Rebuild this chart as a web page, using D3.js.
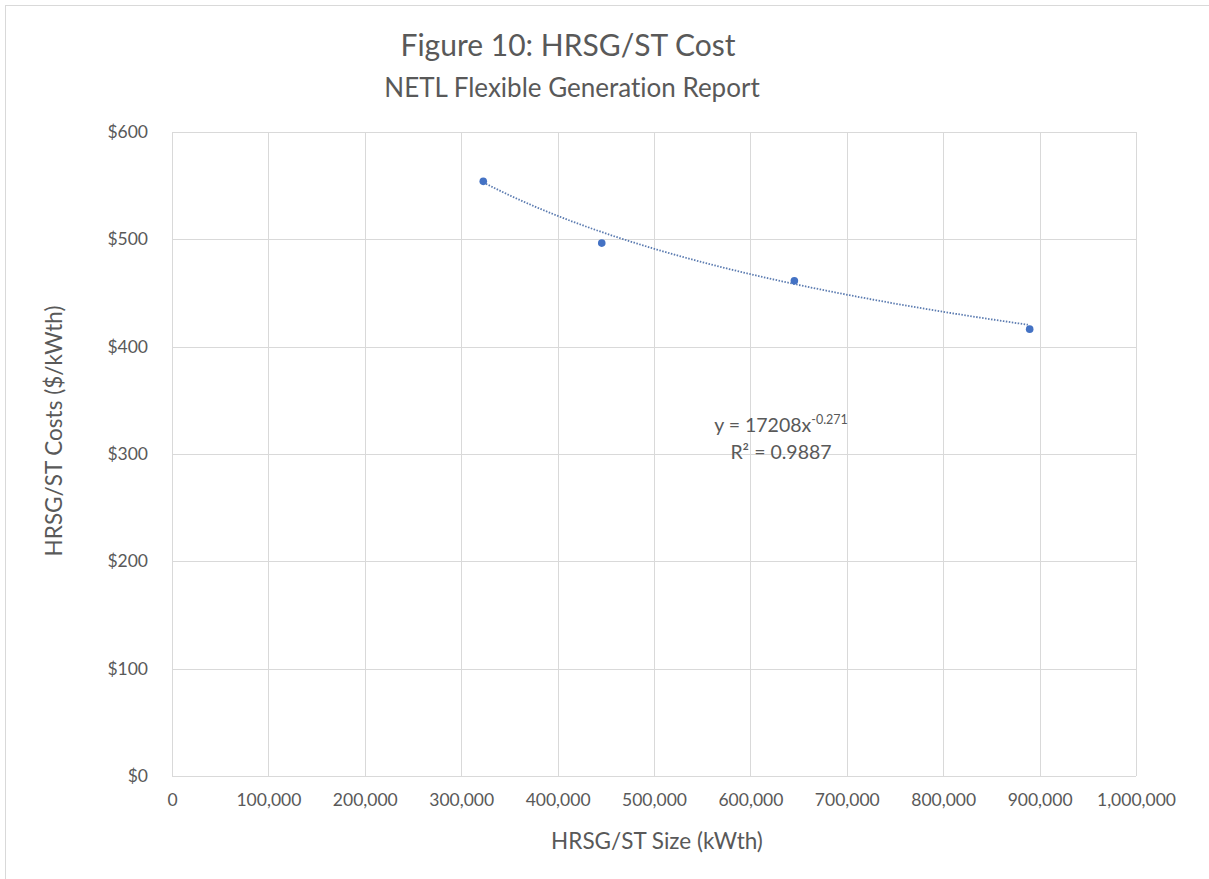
<!DOCTYPE html>
<html>
<head>
<meta charset="utf-8">
<script src="https://d3js.org/d3.v7.min.js"></script>
<style>
  body { margin: 0; background: #fff; }
  svg text { font-family: Lato, "Open Sans", sans-serif; fill: #595959; font-variant-ligatures: none; }
</style>
</head>
<body>
<svg id="chart"></svg>
<script>
const canWidth = 1209;
const canHeight = 879;
const plotLeft = 172;
const plotRight = 1136;
const plotTop = 132;
const plotBottom = 776;

// data
const sizeKwth = [322900, 445800, 645600, 889700];
const costPerKwth = [554, 496.5, 461.3, 416.3];
const xTicks = [0, 100000, 200000, 300000, 400000, 500000, 600000, 700000, 800000, 900000, 1000000];
const yTicks = [0, 100, 200, 300, 400, 500, 600];
// power trendline printed on the chart: y = 17208x^-0.271
const trendA = 17208;
const trendB = -0.271;
const trendR2 = 0.9887;

const xs = d3.scaleLinear().domain([0, 1000000]).range([plotLeft, plotRight]);
const ys = d3.scaleLinear().domain([0, 600]).range([plotBottom, plotTop]);

const svg = d3.select('#chart').attr('width', canWidth).attr('height', canHeight);

svg.append('rect')
    .attr('x', 5.5).attr('y', 5.5)
    .attr('width', 1400).attr('height', 1000)
    .attr('fill', '#fff')
    .attr('stroke', '#d9d9d9');

// gridlines
svg.append('g')
    .selectAll('line')
    .data(yTicks)
    .enter()
    .append('line')
    .attr('x1', plotLeft).attr('x2', plotRight)
    .attr('y1', d => Math.round(ys(d)) + 0.5)
    .attr('y2', d => Math.round(ys(d)) + 0.5)
    .attr('stroke', '#d9d9d9');

svg.append('g')
    .selectAll('line')
    .data(xTicks)
    .enter()
    .append('line')
    .attr('y1', plotTop).attr('y2', plotBottom)
    .attr('x1', d => Math.round(xs(d)) + 0.5)
    .attr('x2', d => Math.round(xs(d)) + 0.5)
    .attr('stroke', '#d9d9d9');

// axes (labels only, Excel style)
const xa = d3.axisBottom(xs).tickValues(xTicks).tickSize(0).tickPadding(18)
    .tickFormat(d3.format(',d'));
const ya = d3.axisLeft(ys).tickValues(yTicks).tickSize(0).tickPadding(24)
    .tickFormat(d => '$' + d);

svg.append('g')
    .attr('transform', `translate(0, ${plotBottom})`)
    .call(xa)
    .call(g => g.select('.domain').remove())
    .selectAll('text').style('font-size', '17.5px').attr('fill', '#595959');

svg.append('g')
    .attr('transform', `translate(${plotLeft}, 0)`)
    .call(ya)
    .call(g => g.select('.domain').remove())
    .selectAll('text').style('font-size', '17.5px').attr('fill', '#595959');

// trendline
const trendData = d3.range(sizeKwth[0], sizeKwth[sizeKwth.length - 1] + 1, 5000)
    .map(x => [x, trendA * Math.pow(x, trendB)]);
svg.append('path')
    .datum(trendData)
    .attr('d', d3.line().x(d => xs(d[0])).y(d => ys(d[1])))
    .attr('fill', 'none')
    .attr('stroke', '#5b7bb0')
    .attr('stroke-width', 1.8)
    .attr('stroke-dasharray', '1.5,1.5');

// points
svg.append('g')
    .selectAll('circle')
    .data(sizeKwth)
    .enter()
    .append('circle')
    .attr('cx', d => xs(d))
    .attr('cy', (d, i) => ys(costPerKwth[i]))
    .attr('r', 3.8)
    .attr('fill', '#4472c4');

// trendline label
const eq = svg.append('text')
    .attr('x', 781).attr('y', 432)
    .attr('text-anchor', 'middle')
    .style('font-size', '19.5px');
eq.append('tspan').text('y = ' + trendA + 'x');
eq.append('tspan').attr('dy', -8).style('font-size', '12.5px').text(trendB);
svg.append('text')
    .attr('x', 781).attr('y', 459)
    .attr('text-anchor', 'middle')
    .style('font-size', '19.5px')
    .text('R² = ' + trendR2);

// titles
svg.append('text')
    .attr('x', 568).attr('y', 56)
    .attr('text-anchor', 'middle')
    .style('font-size', '30px')
    .text('Figure 10: HRSG/ST Cost');
svg.append('text')
    .attr('x', 572).attr('y', 97)
    .attr('text-anchor', 'middle')
    .style('font-size', '26px')
    .text('NETL Flexible Generation Report');

svg.append('text')
    .attr('x', 657).attr('y', 849)
    .attr('text-anchor', 'middle')
    .style('font-size', '22.5px')
    .text('HRSG/ST Size (kWth)');

svg.append('text')
    .attr('transform', 'translate(62, 431) rotate(-90)')
    .attr('text-anchor', 'middle')
    .style('font-size', '22.5px')
    .text('HRSG/ST Costs ($/kWth)');
</script>
</body>
</html>
